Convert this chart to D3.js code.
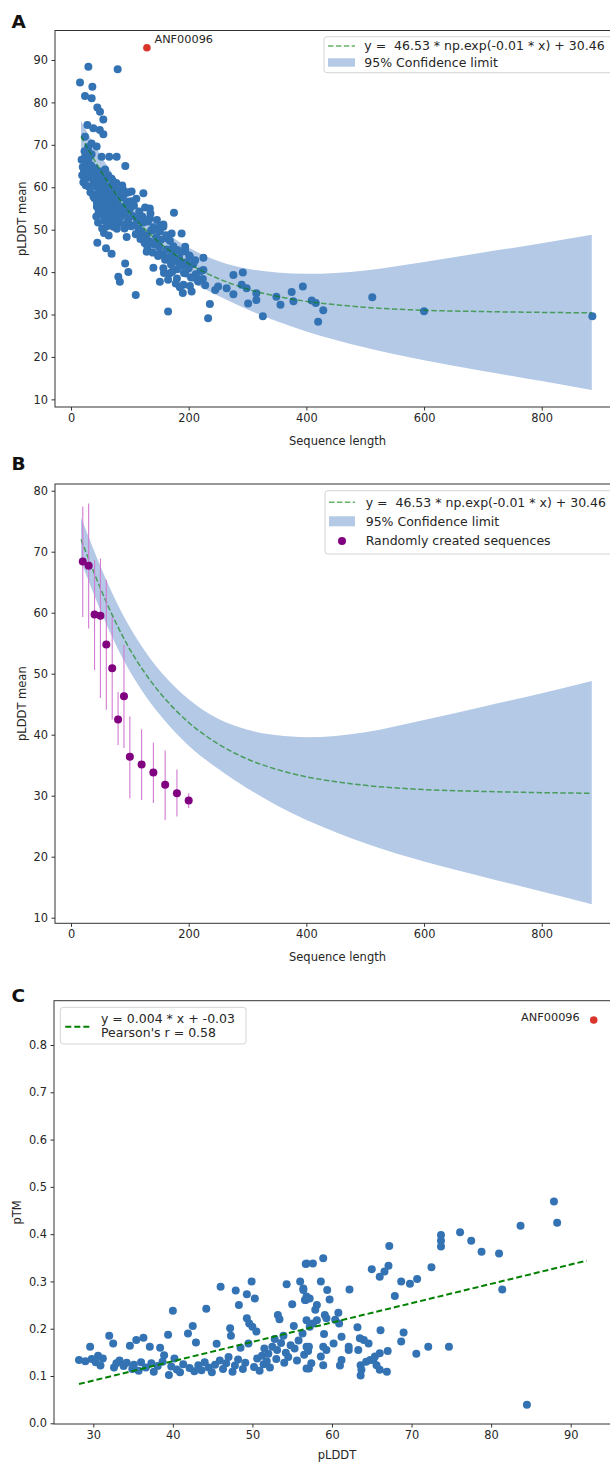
<!DOCTYPE html>
<html>
<head>
<meta charset="utf-8">
<script src="https://cdn.jsdelivr.net/npm/d3@7/dist/d3.min.js"></script>
<style>
  body { margin: 0; background: #fff; }
  text { font-family: "DejaVu Sans", sans-serif; fill: #262626; }
  .pre { white-space: pre; }
</style>
</head>
<body>
<script>
// ---- data ----

// panel A: sequence length vs pLDDT mean, one pair per protein
const lenVsMean = [
  [29.5,88.4],[79.3,87.8],[15.3,84.7],[36.3,83.7],[23.8,81.5],[35.1,81.0],[44.7,78.8],[49.3,77.8],[54.9,76.0],
  [27.8,74.7],[38,73.9],[49,73.5],[55,72.5],[23.8,71.9],[35,70.3],[43.6,69.6],[29.5,68.4],[52,67.2],[65,67.2],
  [77.6,67.2],[92.3,65.0],[24,66.4],[25,64.8],[27,63.7],[38,64.1],[49,63.7],[41,61],[55,60.5],[69,62],[89,59.3],
  [103,59],[123,58.6],[38,57.8],[55,57],[72,57.8],[44,55.4],[60.6,54.6],[77.6,55.4],[94.6,56.2],[134,55],[175,54],
  [72,50.7],[94.6,51.5],[117,52.3],[134,52.7],[151,50.7],[94.6,48.3],[117,49.1],[140,49.9],[157,50.7],[171,49.1],
  [188,49.1],[126,46.8],[146,47.6],[163,48],[194,46],[44.7,46.9],[59.5,45.6],[69,44.3],[128.6,44.8],[151,44.4],
  [174,44.8],[202,43.6],[211,42.8],[225,43.4],[168,42.8],[185,42],[92,42],[97.4,40],[80.4,38.9],[83,37.7],[140,41],
  [157,40.9],[168,39.7],[180,38.5],[151,37.7],[194,39.7],[213.5,38.5],[225,40.5],[191,37],[202,36.7],[205,35.4],
  [110,34.6],[165,30.7],[233,29.1],[236,32.5],[245,35.8],[250,36.6],[264.5,36.2],[276,34.8],[276,39.3],[292,39.9],
  [290,37],[298.5,36.2],[301,32.6],[315,33.4],[315,35],[326,29.6],[349,34.2],[356,32.3],[378,33.1],[375,35.3],
  [394,36.6],[409,33.3],[416,32.7],[428.7,31.0],[420,28.3],[512,34.1],[600,30.8],[886,29.6],
  [18,66.5],[20,64.8],[22,63.6],[19,62.8],[24,67.2],[26,65.5],[28,64],[30,66.8],[32,62.5],[34,65.2],[21,61.2],
  [25,60.5],[27,62.2],[36,63.8],[38,61.5],[30,60.2],[33,58.8],[40,64.5],[42,62.8],[23,68.5],[29,69.5],[35,67.8],
  [42,60.2],[45,58.5],[48,61.3],[50,59.4],[52,57.2],[55,60.8],[58,58.1],[60,56.4],[62,59.6],[65,57.8],[68,55.5],
  [70,58.9],[72,56.9],[75,54.6],[78,57.5],[80,55.8],[44,56.3],[47,54.2],[51,55.6],[54,53.4],[57,52.1],[59,54.8],
  [63,53.6],[66,51.8],[69,53.1],[73,52.5],[76,50.9],[79,53.8],[82,51.6],[85,54.3],[40,57.4],[43,53.1],[46,51.7],
  [53,50.3],[56,49.2],[61,50.8],[64,48.6],[67,56.9],[71,61.5],[74,59.7],[77,61],[83,59.1],[86,57.6],[88,55.2],
  [90,58.3],[92,53.7],[95,56.5],[97,52.3],[100,54.9],[102,50.8],[105,53.2],[108,51.1],[110,48.9],[112,52.6],
  [115,50.3],[118,47.8],[120,49.5],[123,51.7],[125,46.9],[128,48.6],[130,45.8],[133,47.3],[136,49.8],[139,44.6],
  [142,46.5],[145,48.2],[148,43.8],[150,45.9],[153,47.6],[156,44.2],[160,42.9],[163,45.3],[166,43.5],[170,41.8],
  [173,44.1],[176,42.6],[180,40.7],[184,43.2],[188,41.5],[192,39.8],[196,42.3],[200,40.9],[204,38.7],[208,41.9],
  [212,39.5],[216,37.8],[220,40.2],[224,38.4],[228,36.9],[48,57],[53,58.6],[57,61.9],[61,55.2],[66,60.3],[71,54.2],
  [78,50.2],[84,52.9],[87,60.4],[91,50.3],[94,55.1],[98,58.8],[103,56.7],[107,55.7],[111,57.3],[116,54.3],
  [121,53.1],[126,55.2],[131,51.9],[135,53.8],[140,50.6],[146,52.3],[151,49.6],[157,51.2],[162,48.7],[168,47.4],
  [174,46.1],[181,45.2],[187,44.7],[194,44.9],[201,43.9],[158,39.8],[165,38.2],[172,40.1],[178,37.3],[185,36.4],
  [190,35.1],[52,62.5],[46,63.5],[58,64.2],[63,62.8]
];
const outlierA = [129, 92.9];
const outlierName = "ANF00096";

// fitted curve and its 95% band (read at these lengths)
const fitLen  = [17, 30, 50, 75, 100, 125, 150, 175, 200, 250, 300, 350, 400, 450, 500, 600, 700, 800, 885];
const fitMean = [72.0, 68.8, 64.0, 58.6, 54.0, 50.2, 47.0, 44.3, 42.0, 38.5, 36.0, 34.3, 33.1, 32.3, 31.7, 31.0, 30.7, 30.5, 30.4];
const ciHigh  = [75.6, 72.4, 67.6, 62.2, 57.6, 53.8, 50.6, 48.0, 45.8, 42.6, 40.8, 39.9, 39.6, 39.8, 40.4, 42.4, 44.6, 46.8, 48.8];
const ciLow   = [68.4, 65.2, 60.4, 55.0, 50.4, 46.6, 43.4, 40.6, 38.2, 34.4, 31.2, 28.4, 26.0, 24.0, 22.2, 19.2, 16.7, 14.3, 12.2];

// panel B: randomly created sequences
const randLen  = [20, 30, 40, 50, 60, 70, 80, 90, 100, 120, 140, 160, 180, 200];
const randMean = [68.4, 67.7, 59.7, 59.5, 54.8, 50.9, 42.5, 46.3, 36.4, 35.1, 33.8, 31.8, 30.4, 29.2];
const randLo   = [59.3, 57.4, 50.6, 46.0, 44.1, 42.5, 38.3, 37.8, 29.6, 29.3, 28.8, 26.0, 26.6, 28.0];
const randHi   = [77.4, 77.9, 68.6, 68.9, 65.4, 59.3, 47.0, 54.7, 43.0, 40.9, 38.7, 37.4, 34.3, 30.4];

// panel C: pLDDT vs pTM
const plddtVsPtm = [
  [28.2,0.134],[29.0,0.131],[29.6,0.162],[29.8,0.136],[30.3,0.129],[30.6,0.143],[30.9,0.122],[31.2,0.137],[32.0,0.185],
  [32.5,0.169],[32.6,0.118],[32.9,0.127],[33.3,0.133],[33.8,0.121],[34.2,0.128],[34.6,0.164],[34.9,0.115],[35.1,0.124],
  [35.4,0.176],[35.7,0.111],[36.0,0.129],[36.3,0.181],[36.6,0.118],[37.1,0.162],[37.3,0.127],[37.6,0.109],[38.1,0.121],
  [38.4,0.160],[38.7,0.130],[38.9,0.144],[39.4,0.187],[39.5,0.102],[39.8,0.120],[40.0,0.238],[40.2,0.137],[40.5,0.114],
  [40.9,0.108],[41.3,0.125],[41.9,0.190],[42.1,0.117],[42.5,0.206],[42.7,0.110],[42.9,0.171],[43.2,0.123],[43.6,0.112],
  [44.0,0.129],[44.2,0.242],[44.5,0.118],[44.9,0.108],[45.3,0.124],[45.5,0.168],[45.9,0.133],[46.0,0.289],[46.3,0.115],
  [46.7,0.127],[47.0,0.140],[47.2,0.201],[47.3,0.185],[47.5,0.109],[47.8,0.122],[47.9,0.281],[48.2,0.135],[48.3,0.250],
  [48.5,0.160],[48.8,0.115],[49.1,0.128],[49.3,0.273],[49.3,0.222],[49.5,0.169],[49.6,0.211],[49.9,0.300],[50.0,0.204],
  [50.2,0.119],[50.3,0.264],[50.5,0.194],[50.6,0.137],[50.9,0.111],[51.2,0.143],[51.4,0.125],[51.5,0.158],[51.8,0.131],
  [52.0,0.147],[52.2,0.118],[52.5,0.162],[52.8,0.178],[53.0,0.136],[53.1,0.155],[53.2,0.229],[53.4,0.220],[53.6,0.170],
  [53.9,0.185],[54.0,0.128],[54.2,0.149],[54.3,0.294],[54.5,0.140],[54.8,0.165],[55.0,0.252],[55.2,0.206],[55.3,0.158],
  [55.6,0.133],[55.8,0.175],[56.0,0.300],[56.3,0.190],[56.4,0.285],[56.5,0.145],[56.7,0.337],[56.7,0.261],[56.8,0.162],
  [56.8,0.116],[57.0,0.153],
  [87.9,0.469],[88.3,0.424],[83.7,0.418],[81.4,0.283],[81.0,0.359],[78.8,0.363],[77.5,0.386],[76.1,0.404],[73.7,0.398],
  [73.7,0.386],[73.7,0.374],[72.5,0.330],[74.7,0.162],[72.1,0.162],[70.6,0.147],[70.7,0.305],[69.8,0.295],[68.7,0.300],
  [69.0,0.192],[68.7,0.173],[67.9,0.269],[67.2,0.375],[67.1,0.333],[66.6,0.321],[66.0,0.310],[65.0,0.326],[67.0,0.153],
  [66.9,0.109],[66.0,0.113],[65.6,0.123],[65.2,0.134],[66.0,0.148],[65.4,0.141],[66.1,0.197],[64.6,0.169],[64.0,0.176],
  [63.5,0.180],[63.3,0.155],[63.6,0.123],[63.7,0.113],[63.6,0.101],[64.3,0.130],[64.8,0.134],[63.2,0.203],[62.2,0.283],
  [62.1,0.162],[62.1,0.155],[61.2,0.183],[60.9,0.211],[60.8,0.234],[61.0,0.122],[61.2,0.134],[60.2,0.169],[60.4,0.219],
  [58.9,0.349],[58.6,0.300],[59.4,0.282],[59.7,0.262],[57.9,0.240],[58.1,0.250],[59.1,0.229],[59.3,0.222],[59.0,0.189],
  [58.9,0.162],[59.3,0.155],[58.6,0.141],[58.9,0.123],[57.1,0.162],[57.1,0.116],[57.4,0.127],[56.8,0.338],[57.6,0.338],
  [56.6,0.261],[57.2,0.264],[56.4,0.282],[56.8,0.268],[57.6,0.211],[57.2,0.204],[56.8,0.218],[58.1,0.218],[84.5,0.039]
];
const outlierC = [92.9, 0.853];
const regLine = [[28.2, 0.083], [92.0, 0.344]];

// ticks and labels
const lenTicks   = [0, 200, 400, 600, 800];
const meanTicksA = [10, 20, 30, 40, 50, 60, 70, 80, 90];
const meanTicksB = [10, 20, 30, 40, 50, 60, 70, 80];
const plddtTicks = [30, 40, 50, 60, 70, 80, 90];
const ptmTicks   = [0, 0.1, 0.2, 0.3, 0.4, 0.5, 0.6, 0.7, 0.8];
const fitLabel   = "y =  46.53 * np.exp(-0.01 * x) + 30.46";
const ciLabel    = "95% Confidence limit";
const randLabel  = "Randomly created sequences";
const regLabel   = ["y = 0.004 * x + -0.03", "Pearson's r = 0.58"];

// ---- drawing ----
const blue = "#3473b3", red = "#d9352a", bandCol = "#b3c9e6", purple = "#800080";

const svg = d3.select("body").append("svg")
    .attr("width", 610)
    .attr("height", 1462);

const boxA = {left: 55, right: 620, top: 30.5, bottom: 407};
const boxB = {left: 55, right: 620, top: 484, bottom: 923.3};
const boxC = {left: 54, right: 620, top: 1000.7, bottom: 1424};

const xA = d3.scaleLinear().domain([-27.2, 933]).range([boxA.left, boxA.right]);
const yA = d3.scaleLinear().domain([8.2, 96.95]).range([boxA.bottom, boxA.top]);
const xB = d3.scaleLinear().domain([-27.2, 933]).range([boxB.left, boxB.right]);
const yB = d3.scaleLinear().domain([9.08, 81.1]).range([boxB.bottom, boxB.top]);
const xC = d3.scaleLinear().domain([25.06, 96.2]).range([boxC.left, boxC.right]);
const yC = d3.scaleLinear().domain([-0.0015, 0.8937]).range([boxC.bottom, boxC.top]);

function axes(x, y, box, xt, yt, yfmt, xlab, ylab, ylabX, xlabOff) {
    const gx = svg.append("g")
        .attr("transform", "translate(0," + box.bottom + ")")
        .call(d3.axisBottom(x).tickValues(xt).tickSize(3.5).tickPadding(3.5));
    const gy = svg.append("g")
        .attr("transform", "translate(" + box.left + ",0)")
        .call(d3.axisLeft(y).tickValues(yt).tickFormat(yfmt).tickSize(3.5).tickPadding(3.5));
    [gx, gy].forEach(g => {
        g.select(".domain").remove();
        g.selectAll("line").attr("stroke", "#333");
        g.selectAll("text").attr("font-size", 11.4).attr("font-family", "DejaVu Sans").attr("fill", "#262626");
    });
    svg.append("rect")
        .attr("x", box.left).attr("y", box.top)
        .attr("width", box.right - box.left).attr("height", box.bottom - box.top)
        .attr("fill", "none").attr("stroke", "#333").attr("stroke-width", 1);
    svg.append("text")
        .attr("x", (box.left + box.right) / 2).attr("y", box.bottom + xlabOff)
        .attr("text-anchor", "middle").attr("dy", "0.35em")
        .attr("font-size", 11.5).text(xlab);
    svg.append("text")
        .attr("transform", "translate(" + ylabX + "," + (box.top + box.bottom) / 2 + ") rotate(-90)")
        .attr("text-anchor", "middle").attr("dy", "0.35em")
        .attr("font-size", 11.5).text(ylab);
}

function panelTitle(t, y) {
    svg.append("text")
        .attr("x", 11.5).attr("y", y)
        .attr("font-family", "Liberation Sans").attr("font-weight", "bold")
        .attr("font-size", 18.5).style("fill", "#111").text(t);
}

function band(x, y) {
    const area = d3.area()
        .x((d, i) => x(fitLen[i]))
        .y0((d, i) => y(ciLow[i]))
        .y1((d, i) => y(ciHigh[i]))
        .curve(d3.curveMonotoneX);
    svg.append("path").attr("d", area(fitLen)).attr("fill", bandCol);
}

function fitCurve(x, y) {
    const line = d3.line()
        .x((d, i) => x(fitLen[i]))
        .y((d, i) => y(fitMean[i]))
        .curve(d3.curveMonotoneX);
    svg.append("path").attr("d", line(fitLen))
        .attr("fill", "none").attr("stroke", "green").attr("stroke-opacity", 0.6)
        .attr("stroke-width", 1.5).attr("stroke-dasharray", "5.5,2.4");
}

function legendBox(x, y, w, h) {
    svg.append("rect")
        .attr("x", x).attr("y", y).attr("width", w).attr("height", h).attr("rx", 3)
        .attr("fill", "#fff").attr("fill-opacity", 0.8)
        .attr("stroke", "#d4d4d4").attr("stroke-width", 1);
}

// ----- A -----
panelTitle("A", 28.3);
band(xA, yA);
svg.append("g").selectAll("circle")
    .data(lenVsMean).enter().append("circle")
    .attr("cx", d => xA(d[0])).attr("cy", d => yA(d[1]))
    .attr("r", 4).attr("fill", blue);
fitCurve(xA, yA);
svg.append("circle")
    .attr("cx", xA(outlierA[0])).attr("cy", yA(outlierA[1]))
    .attr("r", 3.8).attr("fill", red);
svg.append("text")
    .attr("x", xA(outlierA[0]) + 7.5).attr("y", yA(outlierA[1]) - 8.5)
    .attr("dy", "0.35em").attr("font-size", 11.3).text(outlierName);
axes(xA, yA, boxA, lenTicks, meanTicksA, d3.format("d"), "Sequence length", "pLDDT mean", 21.5, 33.5);

legendBox(324, 36.7, 300, 36);
svg.append("line").attr("x1", 328).attr("x2", 355).attr("y1", 46).attr("y2", 46)
    .attr("stroke", "green").attr("stroke-opacity", 0.6).attr("stroke-width", 1.5)
    .attr("stroke-dasharray", "5.5,2.4");
svg.append("text").attr("class", "pre").attr("x", 364.3).attr("y", 46).attr("dy", "0.35em")
    .attr("font-size", 12.5).text(fitLabel);
svg.append("rect").attr("x", 328).attr("y", 58.3).attr("width", 27).attr("height", 8.4).attr("fill", bandCol);
svg.append("text").attr("x", 364.3).attr("y", 62.3).attr("dy", "0.35em")
    .attr("font-size", 12.5).text(ciLabel);

// ----- B -----
panelTitle("B", 470);
band(xB, yB);
fitCurve(xB, yB);
svg.append("g").selectAll("line")
    .data(randLen).enter().append("line")
    .attr("x1", d => xB(d)).attr("x2", d => xB(d))
    .attr("y1", (d, i) => yB(randLo[i])).attr("y2", (d, i) => yB(randHi[i]))
    .attr("stroke", "#d27ad2").attr("stroke-width", 1.1);
svg.append("g").selectAll("circle")
    .data(randLen).enter().append("circle")
    .attr("cx", d => xB(d)).attr("cy", (d, i) => yB(randMean[i]))
    .attr("r", 4).attr("fill", purple);
axes(xB, yB, boxB, lenTicks, meanTicksB, d3.format("d"), "Sequence length", "pLDDT mean", 21.5, 33.5);

legendBox(325, 490.7, 300, 63.3);
svg.append("line").attr("x1", 329).attr("x2", 355).attr("y1", 502.3).attr("y2", 502.3)
    .attr("stroke", "green").attr("stroke-opacity", 0.6).attr("stroke-width", 1.5)
    .attr("stroke-dasharray", "5.5,2.4");
svg.append("text").attr("class", "pre").attr("x", 365.7).attr("y", 502.3).attr("dy", "0.35em")
    .attr("font-size", 12.5).text(fitLabel);
svg.append("rect").attr("x", 329).attr("y", 516.3).attr("width", 26).attr("height", 10).attr("fill", bandCol);
svg.append("text").attr("x", 365.7).attr("y", 521.3).attr("dy", "0.35em")
    .attr("font-size", 12.5).text(ciLabel);
svg.append("circle").attr("cx", 342).attr("cy", 541).attr("r", 4).attr("fill", purple);
svg.append("text").attr("x", 365.7).attr("y", 541).attr("dy", "0.35em")
    .attr("font-size", 12.5).text(randLabel);

// ----- C -----
panelTitle("C", 1001.7);
svg.append("g").selectAll("circle")
    .data(plddtVsPtm).enter().append("circle")
    .attr("cx", d => xC(d[0])).attr("cy", d => yC(d[1]))
    .attr("r", 4).attr("fill", blue);
svg.append("path")
    .attr("d", d3.line().x(d => xC(d[0])).y(d => yC(d[1]))(regLine))
    .attr("fill", "none").attr("stroke", "green").attr("stroke-width", 2)
    .attr("stroke-dasharray", "6,3");
svg.append("circle")
    .attr("cx", xC(outlierC[0])).attr("cy", yC(outlierC[1]))
    .attr("r", 3.8).attr("fill", red);
svg.append("text")
    .attr("x", xC(outlierC[0]) - 14).attr("y", yC(outlierC[1]) - 3.3)
    .attr("text-anchor", "end").attr("dy", "0.35em")
    .attr("font-size", 11.3).text(outlierName);
// bottom label sits right at the page edge, pull it up a bit
axes(xC, yC, boxC, plddtTicks, ptmTicks, d3.format(".1f"), "pLDDT", "pTM", 17, 30.5);

legendBox(60.3, 1007.3, 185.7, 36.7);
svg.append("line").attr("x1", 65.3).attr("x2", 91.7).attr("y1", 1026.7).attr("y2", 1026.7)
    .attr("stroke", "green").attr("stroke-width", 2).attr("stroke-dasharray", "6,3");
regLabel.forEach((t, i) => {
    svg.append("text").attr("x", 101).attr("y", 1019 + i * 13.7).attr("dy", "0.35em")
        .attr("font-size", 12.5).text(t);
});
</script>
</body>
</html>
